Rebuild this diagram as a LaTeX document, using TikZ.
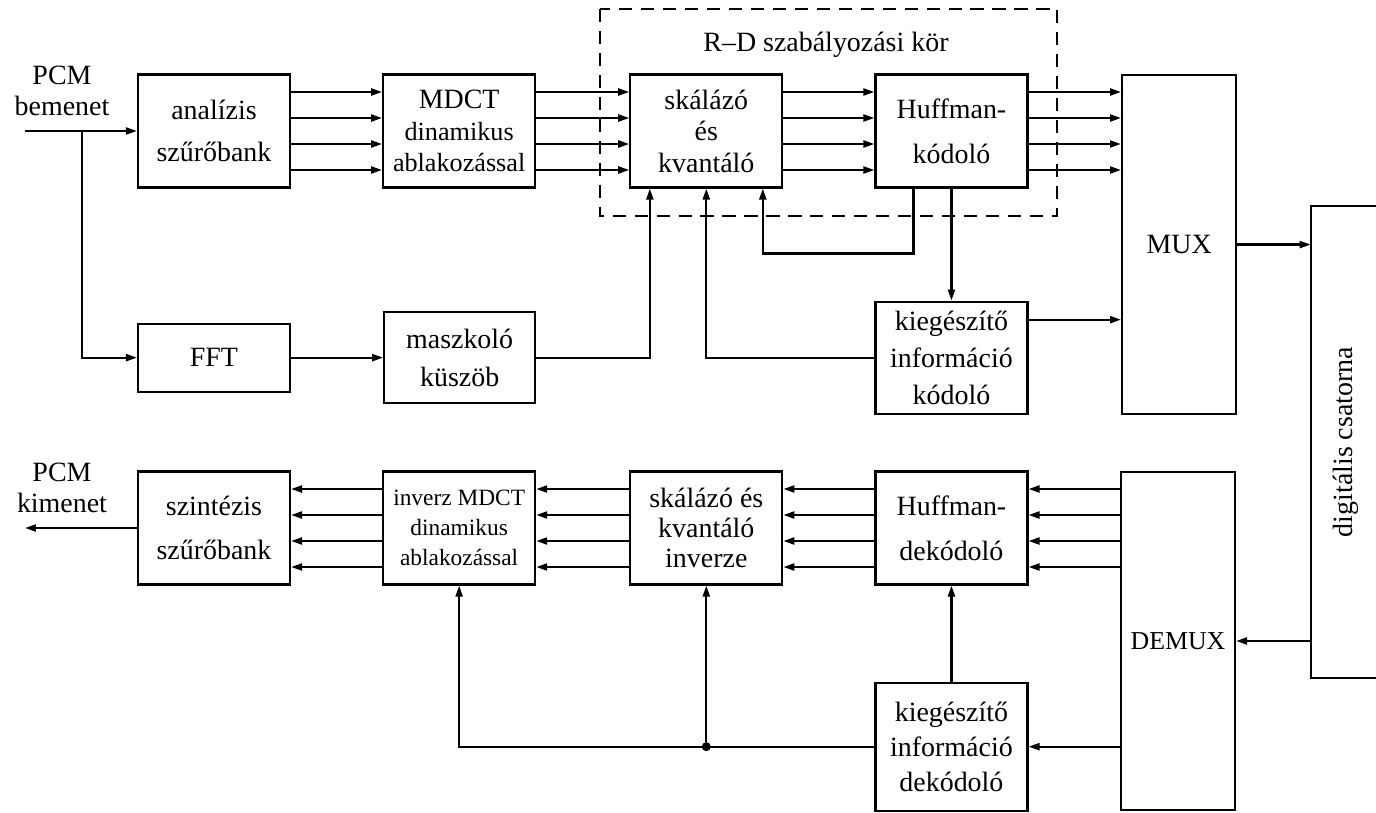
\documentclass[tikz,border=0pt]{standalone}
\usepackage{fontspec}
\setmainfont{Liberation Serif}
\usetikzlibrary{arrows.meta, positioning}

\newcommand{\txt}[1]{\fontsize{15.9}{#1}\selectfont}

\begin{document}
\begin{tikzpicture}[x=0.02cm, y=-0.02cm,
    block/.style={rectangle, draw, line width=1.25pt, inner sep=0pt, align=center, minimum width=3.04cm, minimum height=2.26cm, font=\txt{25}},
    arr/.style={-{Triangle[length=2.2mm, width=1.4mm]}, line width=1.25pt},
    loopbox/.style={draw, line width=1.25pt, dash pattern=on 7.5pt off 5pt},
    lbl/.style={align=center, font=\txt{18}},
    dot/.style={circle, fill, inner sep=0pt, minimum size=0.18cm},
  ]
  \useasboundingbox (0,0) rectangle (1376,812);

  % Coder: main path
  \node[block, font=\txt{24}] (anal) at (214,131) {analízis\\szűrőbank};
  \node[block, font=\fontsize{14.9}{17.9}\selectfont, right=1.82cm of anal] (mdct) {{\fontsize{15.9}{17.9}\selectfont MDCT}\\dinamikus\\ablakozással};
  \node[block, font=\txt{17.9}, right=1.86cm of mdct] (skal) {skálázó\\és\\kvantáló};
  \node[block, font=\txt{25.5}, right=1.82cm of skal] (huff) {Huffman-\\kódoló};
  \node[block, minimum width=2.28cm, minimum height=6.78cm, anchor=north west] (mux) at (1121,74) {MUX};
  \node[lbl] (inlbl) at (62,91) {PCM\\bemenet};

  % R-D loop
  \draw[loopbox] (600,9) rectangle (1057,216);
  \node[font=\txt{18}] (rdlbl) at (826,45) {R--D szabályozási kör};

  % Coder: psychoacoustic path and side info
  \node[block, minimum height=1.36cm, below=2.68cm of anal] (fft) {FFT};
  \node[block, minimum width=3.02cm, minimum height=1.82cm, font=\txt{21.5}, right=1.84cm of fft] (mask) {maszkoló\\küszöb};
  \node[block, minimum height=2.24cm, font=\txt{21}, below=2.24cm of huff] (kieg) {kiegészítő\\információ\\kódoló};

  % Channel
  \node[minimum width=1.4cm, minimum height=9.44cm, inner sep=0pt, font=\txt{18}] (chan) at (1346,442) {\rotatebox{90}{digitális csatorna}};
  \draw[line width=1.25pt] (chan.north east) -- (chan.north west) -- (chan.south west) -- (chan.south east);

  % Decoder
  \node[block, font=\txt{25.5}] (synth) at (214,528) {szintézis\\szűrőbank};
  \node[block, font=\fontsize{13.3}{17}\selectfont, right=1.82cm of synth] (imdct) {inverz MDCT\\dinamikus\\ablakozással};
  \node[block, font=\txt{17}, right=1.86cm of imdct] (iskal) {skálázó és\\kvantáló\\inverze};
  \node[block, font=\txt{25.5}, right=1.82cm of iskal] (ihuff) {Huffman-\\dekódoló};
  \node[block, minimum width=2.28cm, minimum height=6.76cm, font=\fontsize{14.7}{17}\selectfont] (demux) at (1178,641) {DEMUX};
  \node[block, minimum height=2.56cm, font=\txt{20}, below=1.92cm of ihuff] (kiegd) {kiegészítő\\információ\\dekódoló};
  \node[lbl] (outlbl) at (62,488) {PCM\\kimenet};

  % Coder arrows
  \coordinate (pcmin) at (25,131);
  \coordinate (tap) at (82,131);
  \draw[arr] (pcmin) -- (anal.west);
  \draw[arr] (tap) |- (fft.west);
  \foreach \dy in {0.78,0.26,-0.26,-0.78} {
    \draw[arr, transform canvas={yshift=\dy cm}] (anal.east) -- (mdct.west);
    \draw[arr, transform canvas={yshift=\dy cm}] (mdct.east) -- (skal.west);
    \draw[arr, transform canvas={yshift=\dy cm}] (skal.east) -- (huff.west);
    \draw[arr, transform canvas={yshift=\dy cm}] (huff.east) -- (huff.east -| mux.west);
  }
  \draw[arr] (fft.east) -- (fft.east -| mask.west);
  \draw[arr] (mask.east) -| ([xshift=-1.13cm]skal.south);
  \draw[arr] (kieg.west) -| (skal.south);
  \draw[arr] ([xshift=-0.76cm]huff.south) -- ++(0,65) -| ([xshift=1.13cm]skal.south);
  \draw[arr] (huff.south) -- (kieg.north);
  \draw[arr, transform canvas={yshift=0.76cm}] (kieg.east) -- (kieg.east -| mux.west);
  \draw[arr] (mux.east) -- (mux.east -| chan.west);

  % Decoder arrows
  \draw[arr] (chan.west |- demux.east) -- (demux.east);
  \foreach \dy in {0.78,0.26,-0.26,-0.78} {
    \draw[arr, transform canvas={yshift=\dy cm}] (demux.west |- ihuff.east) -- (ihuff.east);
    \draw[arr, transform canvas={yshift=\dy cm}] (ihuff.west) -- (iskal.east);
    \draw[arr, transform canvas={yshift=\dy cm}] (iskal.west) -- (imdct.east);
    \draw[arr, transform canvas={yshift=\dy cm}] (imdct.west) -- (synth.east);
  }
  \coordinate (pcmout) at (25,528);
  \draw[arr] (synth.west) -- (pcmout);
  \draw[arr] (demux.west |- kiegd.east) -- (kiegd.east);
  \draw[arr] (kiegd.north) -- (ihuff.south);
  \node[dot] (jn) at (iskal.south |- kiegd.west) {};
  \draw[arr] (kiegd.west) -| (imdct.south);
  \draw[arr] (jn) -- (iskal.south);
\end{tikzpicture}
\end{document}
